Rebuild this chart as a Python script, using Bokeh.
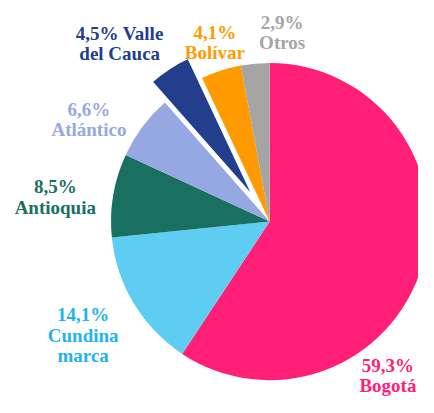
import math
from bokeh.plotting import figure
from bokeh.models import Range1d, ColumnDataSource
from bokeh.core.properties import value
from bokeh.embed import file_html
from bokeh.resources import INLINE

# ---- data ----
regions = ["Bogotá", "Cundinamarca", "Antioquia", "Atlántico", "Valle del Cauca", "Bolívar", "Otros"]
shares = [59.3, 14.1, 8.5, 6.6, 4.5, 4.1, 2.9]
label_lines = [
    ["59,3%", "Bogotá"],
    ["14,1%", "Cundina", "marca"],
    ["8,5%", "Antioquia"],
    ["6,6%", "Atlántico"],
    ["4,5% Valle", "del Cauca"],
    ["4,1%", "Bolívar"],
    ["2,9%", "Otros"],
]
exploded = [0, 0, 0, 0, 1, 0, 0]

# ---- style ----
slice_colors = ["#FF1F77", "#5FCDF2", "#1A7060", "#95A8E1", "#233E8C", "#FF9A00", "#A5A5A5"]
text_colors = ["#FF1F77", "#1FB5EC", "#1A7060", "#95A8E1", "#233E8C", "#FF9A00", "#A5A5A5"]
# label anchor in reference-pixel units: (x center, first baseline y from top)
label_pos = [(403, 380), (86, 327), (57, 194), (92, 113), (124, 34), (223, 33.5), (293, 22.7)]
line_gap = 21

REF_W, REF_H = 434, 413
W, H = 418, 397
s = H / REF_H  # uniform scale from reference pixels to screen pixels
cx_ref, cy_ref, R = 280, 230, 165
explode_dist = 26
font_px = 19.8 * s


def fy(y_ref):
    return REF_H - y_ref


p = figure(width=W, height=H, output_backend="svg", toolbar_location=None,
           x_range=Range1d(0, W / s), y_range=Range1d(REF_H - H / s, REF_H),
           min_border=0, outline_line_color=None)
p.axis.visible = False
p.grid.visible = False
p.background_fill_color = "white"
p.border_fill_color = "white"

total = sum(shares)
xs, ys, starts, ends, lalpha = [], [], [], [], []
cum = 0.0
for v, ex in zip(shares, exploded):
    a0 = math.pi / 2 - 2 * math.pi * (cum + v) / total
    a1 = math.pi / 2 - 2 * math.pi * cum / total
    mid = (a0 + a1) / 2
    d = explode_dist if ex else 0
    xs.append(cx_ref + d * math.cos(mid))
    ys.append(fy(cy_ref) + d * math.sin(mid))
    starts.append(a0)
    ends.append(a1)
    lalpha.append(1.0 if ex else 0.0)
    cum += v

src = ColumnDataSource(dict(x=xs, y=ys, start=starts, end=ends, color=slice_colors,
                            la=lalpha, name=regions))
p.wedge(x="x", y="y", radius=R, start_angle="start", end_angle="end",
        fill_color="color", line_color="white", line_alpha="la", line_width=3,
        source=src)

tx, ty, tt, tc = [], [], [], []
for lines, (lx, ly), col in zip(label_lines, label_pos, text_colors):
    for i, t in enumerate(lines):
        tx.append(lx)
        ty.append(fy(ly + i * line_gap))
        tt.append(t)
        tc.append(col)

p.text(x=tx, y=ty, text=tt, text_color=tc, text_align="center",
       text_baseline="alphabetic", text_font=value("Liberation Serif"),
       text_font_style="bold", text_font_size=f"{font_px:.1f}px")

open("out.html", "w").write(file_html(p, INLINE))
